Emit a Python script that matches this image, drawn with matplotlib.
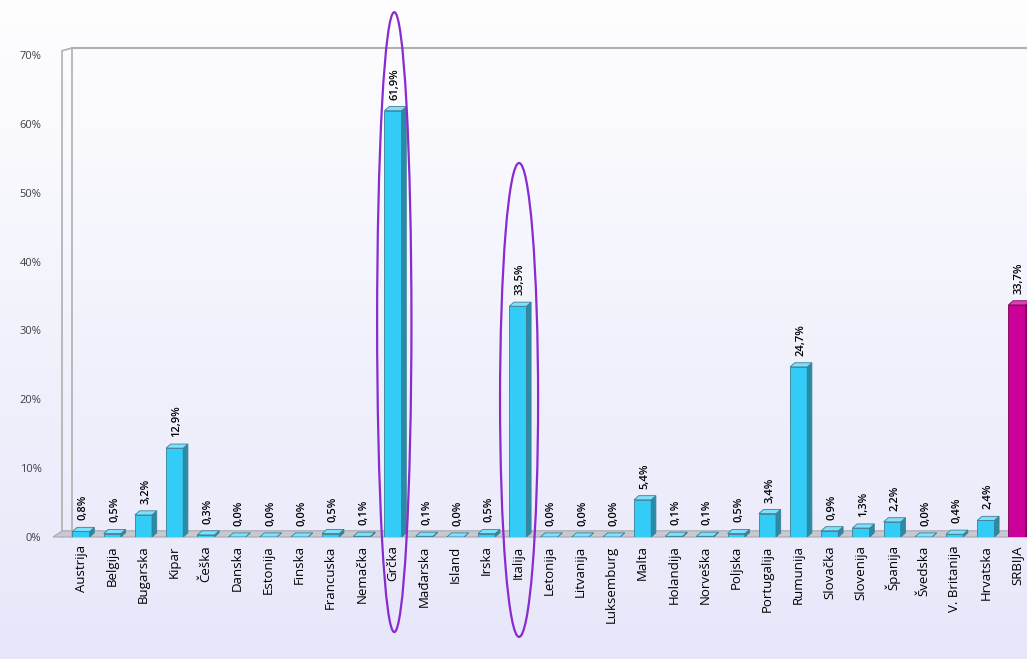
import numpy as np
import matplotlib
matplotlib.use("Agg")
import matplotlib.pyplot as plt
from matplotlib.patches import Polygon, Ellipse

# Share of the category per country (%)
countries = ["Austrija", "Belgija", "Bugarska", "Kipar", "Češka", "Danska", "Estonija",
             "Finska", "Francuska", "Nemačka", "Grčka", "Mađarska", "Island", "Irska",
             "Italija", "Letonija", "Litvanija", "Luksemburg", "Malta", "Holandija",
             "Norveška", "Poljska", "Portugalija", "Rumunija", "Slovačka", "Slovenija",
             "Španija", "Švedska", "V. Britanija", "Hrvatska", "SRBIJA"]
values = [0.8, 0.5, 3.2, 12.9, 0.3, 0.0, 0.0, 0.0, 0.5, 0.1, 61.9, 0.1, 0.0, 0.5,
          33.5, 0.0, 0.0, 0.0, 5.4, 0.1, 0.1, 0.5, 3.4, 24.7, 0.9, 1.3, 2.2, 0.0,
          0.4, 2.4, 33.7]
y_ticks = [0, 10, 20, 30, 40, 50, 60, 70]

plt.rcParams['font.family'] = ['Open Sans', 'DejaVu Sans']

fig = plt.figure(figsize=(10.27, 6.59), dpi=100)

# soft vertical gradient behind everything
bg = fig.add_axes([0, 0, 1, 1], zorder=-10)
grad = np.linspace(0, 1, 256).reshape(-1, 1)
top = np.array([0.995, 0.995, 1.0])
bottom = np.array([0.905, 0.905, 0.98])
img = top + (bottom - top) * grad[:, :, None]
bg.imshow(img, aspect="auto", extent=[0, 1, 0, 1])
bg.axis("off")

W, H = 1027, 659
ax = fig.add_axes([72 / W, (H - 537) / H, (W - 72) / W, (537 - 48) / H])
ax.patch.set_alpha(0)

x = np.arange(len(countries))
bw = 0.55           # bar front width
dx, dy = 0.15, 0.6  # 3D depth offsets (data units)

for i, v in enumerate(values):
    if countries[i] == "SRBIJA":
        front, side, cap, edge = "#cc0099", "#8c0068", "#e040b8", "#7a0058"
    else:
        front, side, cap, edge = "#33ccf7", "#2a8ba6", "#7fe0fb", "#3d7f95"
    x0 = i - bw / 2
    x1 = i + bw / 2
    ax.bar(i, v, width=bw, color=front, edgecolor=edge, linewidth=0.6, zorder=3)
    ax.add_patch(Polygon([(x1, 0), (x1 + dx, dy), (x1 + dx, v + dy), (x1, v)],
                         closed=True, facecolor=side, edgecolor=edge, lw=0.6, zorder=3))
    ax.add_patch(Polygon([(x0, v), (x0 + dx, v + dy), (x1 + dx, v + dy), (x1, v)],
                         closed=True, facecolor=cap, edgecolor=edge, lw=0.6, zorder=3))
    ax.annotate(f"{v:.1f}%".replace(".", ","), (i + dx / 2, v + dy),
                xytext=(0, 5), textcoords="offset points", rotation=90,
                ha="center", va="bottom", fontsize=8, fontweight="semibold", zorder=5)

# floor strip
ax.add_patch(Polygon([(-0.9, 0), (-0.9 + 0.3, 0.9), (31, 0.9), (31, 0)], closed=True,
                     facecolor="#c8c8d0", edgecolor="#a8a8b0", lw=0.8, zorder=2,
                     clip_on=False))

# highlight ellipses around selected countries
for name, cy, h, w in [("Grčka", 31.2, 90.0, 1.1), ("Italija", 19.9, 68.8, 1.22)]:
    idx = countries.index(name)
    ax.add_patch(Ellipse((idx + 0.04, cy), w, h, facecolor="none",
                         edgecolor="#8a2bd0", lw=1.6, zorder=6, clip_on=False))

ax.set_xlim(-0.29, (W - 81) / 31.2)
ax.set_ylim(0, 71)
ax.set_yticks(y_ticks)
ax.set_yticklabels([f"{t}%" for t in y_ticks], fontsize=8, color="#404040")
ax.set_xticks(x)
ax.set_xticklabels(countries, rotation=90, fontsize=9.5)
ax.tick_params(axis="both", length=0, pad=6)
ax.tick_params(axis="y", pad=22)

for s in ["right", "bottom"]:
    ax.spines[s].set_visible(False)
ax.spines["top"].set_color("#b0b0b0")
ax.spines["top"].set_linewidth(1.5)
ax.spines["left"].set_color("#b0b0b0")
ax.spines["left"].set_linewidth(1.2)

# outer edge of the left wall
ax.plot([-0.61, -0.61, -0.29], [0, 70.6, 71], color="#b0b0b0", lw=1.2,
        clip_on=False, zorder=1)

fig.savefig("out.png", dpi=100)
